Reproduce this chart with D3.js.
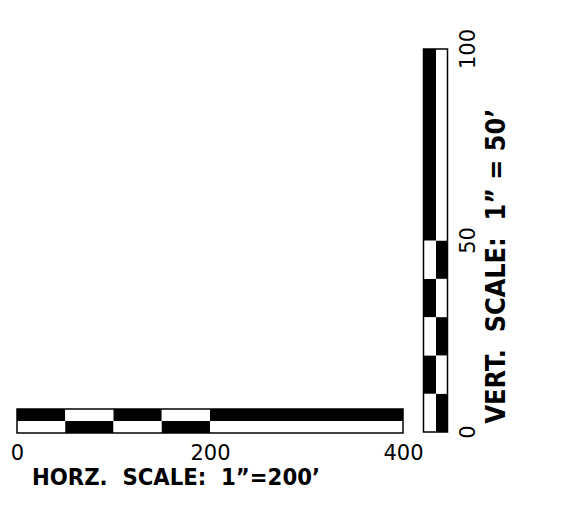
<!DOCTYPE html>
<html><head><meta charset="utf-8">
<script src="https://cdn.jsdelivr.net/npm/d3@7"></script>
<style>html,body{margin:0;padding:0;background:#fff;}svg{display:block;}</style>
</head><body>
<svg id="c" width="566" height="519"></svg>
<script>
// Horizontal scale bar (feet)
const hBreaks = [0, 50, 100, 150, 200, 400];
const hTopDark = [true, false, true, false, true];
const hTicks = [0, 200, 400];
const hTitle = "HORZ.  SCALE:  1\u201D=200\u2019";
// Vertical scale bar (feet)
const vBreaks = [0, 10, 20, 30, 40, 50, 100];
const vLeftDark = [false, true, false, true, false, true];
const vTicks = [0, 50, 100];
const vTitle = "VERT.  SCALE:  1\u201D = 50\u2019";

const svg = d3.select("#c");
const x = d3.scaleLinear().domain([0, 400]).range([17, 403]);
const y = d3.scaleLinear().domain([0, 100]).range([432, 49]);

const hTop = 409, hMid = 421, hBot = 433;
const vLeft = 423.5, vMid = 436, vRight = 447.5;

// horizontal bar
const hSegs = hTopDark.map((d, i) => ({a: hBreaks[i], b: hBreaks[i+1], top: d}));
const hg = svg.append("g");
hg.selectAll("rect.t").data(hSegs).join("rect")
  .attr("x", d => x(d.a)).attr("width", d => x(d.b) - x(d.a))
  .attr("y", hTop).attr("height", hMid - hTop)
  .attr("fill", d => d.top ? "#000" : "#fff");
hg.selectAll("rect.b").data(hSegs).join("rect")
  .attr("x", d => x(d.a)).attr("width", d => x(d.b) - x(d.a))
  .attr("y", hMid).attr("height", hBot - hMid)
  .attr("fill", d => d.top ? "#fff" : "#000");
hg.append("rect").attr("x", x(0)).attr("y", hTop)
  .attr("width", x(400) - x(0)).attr("height", hBot - hTop)
  .attr("fill", "none").attr("stroke", "#000").attr("stroke-width", 1.5);

const hAxis = d3.axisBottom(x).tickValues(hTicks).tickSize(0).tickPadding(0).tickFormat(d3.format("d"));
const ha = svg.append("g").attr("transform", `translate(0,${hBot + 27})`).call(hAxis);
ha.select(".domain").remove();
ha.selectAll("text").attr("dy", 0).attr("y", 0)
  .attr("font-family", "DejaVu Sans").attr("font-size", 21).attr("fill", "#000");

svg.append("text").attr("x", 32).attr("y", 485)
  .attr("font-family", "DejaVu Sans").attr("font-weight", "bold").attr("font-size", 22.5)
  .attr("textLength", 288).attr("lengthAdjust", "spacingAndGlyphs")
  .style("white-space", "pre")
  .text(hTitle);

// vertical bar
const vSegs = vLeftDark.map((d, i) => ({a: vBreaks[i], b: vBreaks[i+1], left: d}));
const vg = svg.append("g");
vg.selectAll("rect.l").data(vSegs).join("rect")
  .attr("x", vLeft).attr("width", vMid - vLeft)
  .attr("y", d => y(d.b)).attr("height", d => y(d.a) - y(d.b))
  .attr("fill", d => d.left ? "#000" : "#fff");
vg.selectAll("rect.r").data(vSegs).join("rect")
  .attr("x", vMid).attr("width", vRight - vMid)
  .attr("y", d => y(d.b)).attr("height", d => y(d.a) - y(d.b))
  .attr("fill", d => d.left ? "#fff" : "#000");
vg.append("rect").attr("x", vLeft).attr("y", y(100))
  .attr("width", vRight - vLeft).attr("height", y(0) - y(100))
  .attr("fill", "none").attr("stroke", "#000").attr("stroke-width", 1.5);

svg.append("g").selectAll("text").data(vTicks).join("text")
  .attr("transform", d => `translate(475,${y(d)}) rotate(-90)`)
  .attr("text-anchor", "middle")
  .attr("font-family", "DejaVu Sans").attr("font-size", 21).attr("fill", "#000")
  .text(d3.format("d"));

svg.append("text").attr("transform", "translate(505,423.5) rotate(-90)")
  .attr("font-family", "DejaVu Sans").attr("font-weight", "bold").attr("font-size", 26)
  .attr("textLength", 315).attr("lengthAdjust", "spacingAndGlyphs")
  .style("white-space", "pre")
  .text(vTitle);
</script>
</body></html>
